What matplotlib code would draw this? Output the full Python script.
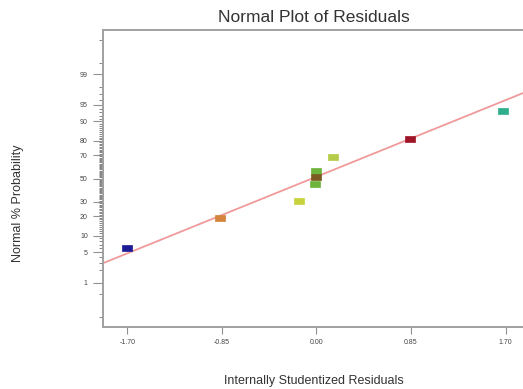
from statistics import NormalDist
import numpy as np
import matplotlib
matplotlib.use("Agg")
import matplotlib.pyplot as plt

# residuals, with their normal % probability
residuals = [-1.70, -0.87, -0.16, 0.00, 0.00, -0.01, 0.15, 0.845, 1.68]
probability = [5.9, 18.7, 31.0, 56.7, 51.6, 45.1, 68.7, 81.0, 93.5]
point_colors = ["#1c1c96", "#d4843c", "#c8d23c", "#6cb43c", "#7a5a1e",
                "#6cb43c", "#b4cc48", "#a01428", "#2eae8c"]
x_ticks = [-1.70, -0.85, 0.00, 0.85, 1.70]
y_ticks = [1, 5, 10, 20, 30, 50, 70, 80, 90, 95, 99]
line_slope = 1.007
line_intercept = 0.04

nd = NormalDist()
z_pts = np.array([nd.inv_cdf(p / 100.0) for p in probability])

plt.rcParams['font.family'] = ['Liberation Sans', 'DejaVu Sans']
fig = plt.figure(figsize=(5.23, 3.89), dpi=100)
ax = fig.add_axes([103 / 523, 1 - 327 / 389, 427 / 523, 297 / 389])

# flat rectangle marker, like the original
rect = [(-1, -0.65), (1, -0.65), (1, 0.65), (-1, 0.65), (-1, -0.65)]

xlim = (-1.92, 1.92)
xs = np.array(xlim)
ax.plot(xs, line_slope * xs + line_intercept, color="#f09a9a", lw=1.3, zorder=2)
for x, z, c in zip(residuals, z_pts, point_colors):
    ax.plot(x, z, marker=rect, ms=6.5, mfc=c, mec=c, mew=0.5, ls="none", zorder=3)

ax.set_xlim(*xlim)
ax.set_ylim(-3.32, 3.32)
ax.set_xticks(x_ticks)
ax.set_xticklabels(["%.2f" % v for v in x_ticks])
ax.set_yticks([nd.inv_cdf(p / 100.0) for p in y_ticks])
ax.set_yticklabels([str(p) for p in y_ticks])
minor_p = [0.1, 0.5] + list(range(1, 100)) + [99.5, 99.9]
ax.set_yticks([nd.inv_cdf(p / 100.0) for p in minor_p], minor=True)

for side in ["left", "bottom", "top"]:
    ax.spines[side].set_color("#a0a0a0")
    ax.spines[side].set_linewidth(1.4)
ax.spines["right"].set_visible(False)
ax.tick_params(axis="both", which="major", direction="out", length=7, width=0.8,
               color="#909090", labelsize=5, labelcolor="#444444", pad=4)
ax.tick_params(axis="y", which="minor", direction="out", length=3, width=0.6,
               color="#707070")
ax.tick_params(axis="x", which="major", length=5)

fig.text(314 / 523, 1 - 17 / 389, "Normal Plot of Residuals", ha="center",
         va="center", fontsize=12.5, color="#333333")
fig.text(314 / 523, 1 - 381 / 389, "Internally Studentized Residuals",
         ha="center", va="center", fontsize=9, color="#333333")
fig.text(18 / 523, 1 - 203 / 389, "Normal % Probability", ha="center",
         va="center", rotation=90, fontsize=9, color="#333333")

fig.savefig("out.png", dpi=100)
